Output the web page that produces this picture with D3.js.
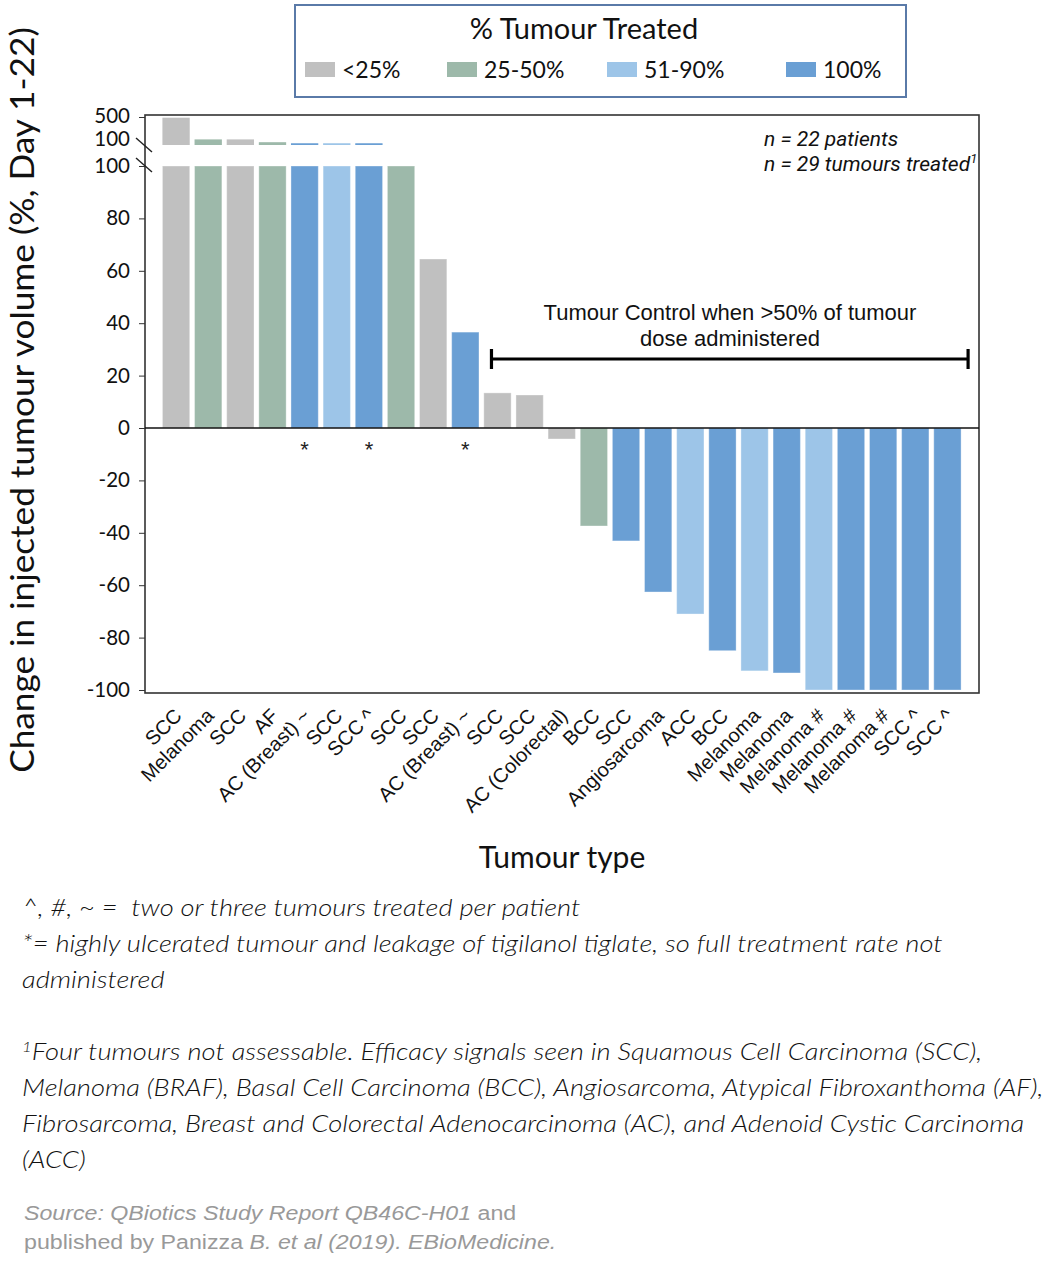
<!DOCTYPE html>
<html>
<head>
<meta charset="utf-8">
<script src="https://cdn.jsdelivr.net/npm/d3@7/dist/d3.min.js"></script>
<style>
  html,body{margin:0;padding:0;background:#fff;}
  svg{display:block;}
  text{white-space:pre;}
</style>
</head>
<body>
<svg id="chart" width="1058" height="1272"></svg>
<script>
const categories = ["SCC","Melanoma","SCC","AF","AC (Breast) ~","SCC","SCC ^","SCC","SCC","AC (Breast) ~","SCC","SCC","AC (Colorectal)","BCC","SCC","Angiosarcoma","ACC","BCC","Melanoma","Melanoma","Melanoma #","Melanoma #","Melanoma #","SCC ^","SCC ^"];
const values = [490,180,180,140,125,125,125,100,64.5,36.6,13.4,12.6,-4.2,-37.4,-43.1,-62.6,-71,-85,-92.7,-93.5,-100,-100,-100,-100,-100];
const treated = ["<25%","25-50%","<25%","25-50%","100%","51-90%","100%","25-50%","<25%","100%","<25%","<25%","<25%","25-50%","100%","100%","51-90%","100%","51-90%","100%","51-90%","100%","100%","100%","100%"];
const ulcerated = [0,0,0,0,1,0,1,0,0,1,0,0,0,0,0,0,0,0,0,0,0,0,0,0,0];
const legendLabels = ["<25%","25-50%","51-90%","100%"];
const legendColors = ["#c0c0c0","#9db9aa","#9dc5e8","#6a9fd4"];
const lowerTicks = [100,80,60,40,20,0,-20,-40,-60,-80,-100];
const upperTicks = [500,100];

const svg = d3.select("#chart");
const color = d3.scaleOrdinal().domain(legendLabels).range(legendColors);

const frame = {left:145, right:979, top:115, bottom:693};
const x = d3.scaleBand().domain(d3.range(categories.length)).range([160,963.5]).paddingInner(0.15).paddingOuter(0.075);
const yLow = d3.scaleLinear().domain([-100,100]).range([690,166]);
const yUp = d3.scaleLinear().domain([100,500]).range([145,117]);

// Legend
const lg = svg.append("g");
lg.append("rect").attr("x",295).attr("y",5).attr("width",611).attr("height",92)
  .attr("fill","#fff").attr("stroke","#5a7aa8").attr("stroke-width",2);
lg.append("text").attr("x",584).attr("y",39).attr("text-anchor","middle")
  .attr("font-family","Lato, 'Noto Sans', sans-serif").attr("font-size",29).attr("fill","#111")
  .text("% Tumour Treated");
const legX = [305,447,607,786];
legendLabels.forEach((l,i)=>{
  lg.append("rect").attr("x",legX[i]).attr("y",62).attr("width",30).attr("height",15).attr("fill",color(l));
  lg.append("text").attr("x",legX[i]+37).attr("y",78)
    .attr("font-family","Lato, 'Noto Sans', sans-serif").attr("font-size",23).attr("fill","#111").text(l);
});

// Bars
const bars = svg.append("g");
values.forEach((v,i)=>{
  const vc = Math.max(-100, Math.min(100, v));
  const y0 = yLow(Math.max(0,vc)), y1 = yLow(Math.min(0,vc));
  bars.append("rect").attr("x",x(i)).attr("y",y0).attr("width",x.bandwidth()).attr("height",Math.max(0,y1-y0))
    .attr("fill",color(treated[i])).attr("stroke","#ffffff").attr("stroke-opacity",0.35).attr("stroke-width",1);
  if (v>100){
    const u0 = yUp(v), u1 = yUp(100);
    bars.append("rect").attr("x",x(i)).attr("y",u0).attr("width",x.bandwidth()).attr("height",Math.max(1.5,u1-u0))
      .attr("fill",color(treated[i]));
  }
  if (ulcerated[i]){
    bars.append("text").attr("x",x(i)+x.bandwidth()/2).attr("y",yLow(0)+29).attr("text-anchor","middle")
      .attr("font-family","'Liberation Sans', Arial, sans-serif").attr("font-size",22).attr("fill","#222").text("*");
  }
});

// Frame
svg.append("rect").attr("x",frame.left).attr("y",frame.top).attr("width",frame.right-frame.left).attr("height",frame.bottom-frame.top)
  .attr("fill","none").attr("stroke","#333").attr("stroke-width",1.6);
svg.append("line").attr("x1",frame.left).attr("x2",frame.right).attr("y1",yLow(0)).attr("y2",yLow(0))
  .attr("stroke","#111").attr("stroke-width",1.6);

// Y axes
const fmt = d => String(d);
const axLow = svg.append("g").attr("transform",`translate(${frame.left},0)`)
  .call(d3.axisLeft(yLow).tickValues(lowerTicks).tickSize(6).tickFormat(fmt));
axLow.select(".domain").remove();
axLow.selectAll("text").attr("font-family","Lato, 'Noto Sans', sans-serif").attr("font-size",20.5).attr("fill","#111").attr("dx",-6);
axLow.selectAll("line").attr("stroke","#333");

const axUp = svg.append("g").attr("transform",`translate(${frame.left},0)`)
  .call(d3.axisLeft(yUp).tickValues(upperTicks).tickSize(6).tickFormat(fmt));
axUp.select(".domain").remove();
axUp.selectAll("text").attr("font-family","Lato, 'Noto Sans', sans-serif").attr("font-size",20.5).attr("fill","#111").attr("dx",-6)
  .attr("dy",(d)=> d===100 ? "0em" : "0.28em");
axUp.selectAll("line").attr("stroke","#333").attr("opacity",(d)=>d===100?0:1);

// Break marks
[[138,152],[158,172]].forEach(([a,b])=>{
  svg.append("line").attr("x1",136).attr("y1",a).attr("x2",152).attr("y2",b).attr("stroke","#222").attr("stroke-width",1.4);
});

// X labels
const xl = svg.append("g");
categories.forEach((c,i)=>{
  xl.append("text").attr("transform",`translate(${x(i)+x.bandwidth()/2+7},717) rotate(-45)`)
    .attr("text-anchor","end").attr("font-family","'Liberation Sans', Arial, sans-serif").attr("font-size",20)
    .attr("fill","#111").text(c);
});

// Axis titles
svg.append("text").attr("transform","translate(34,400) rotate(-90) scale(1.1,1)").attr("text-anchor","middle")
  .attr("font-family","Lato, 'Noto Sans', sans-serif").attr("font-size",32).attr("fill","#111")
  .text("Change in injected tumour volume (%, Day 1-22)");
svg.append("text").attr("x",562).attr("y",868).attr("text-anchor","middle")
  .attr("font-family","Lato, 'Noto Sans', sans-serif").attr("font-size",30).attr("fill","#111").text("Tumour type");

// n annotations
const na = svg.append("g").attr("font-family","Roboto, sans-serif").attr("font-style","italic").attr("font-size",21).attr("fill","#111");
na.append("text").attr("x",764).attr("y",146).text("n = 22 patients");
const t2 = na.append("text").attr("x",764).attr("y",171).text("n = 29 tumours treated");
t2.append("tspan").attr("font-size",13).attr("dy",-8).text("1");

// Tumour control annotation
const ta = svg.append("g").attr("font-family","'Liberation Sans', Arial, sans-serif").attr("font-size",22).attr("fill","#111").attr("text-anchor","middle");
ta.append("text").attr("x",730).attr("y",320).text("Tumour Control when >50% of tumour");
ta.append("text").attr("x",730).attr("y",346).text("dose administered");
const bx0 = x(10)+x.bandwidth()/2-6, bx1 = x(categories.length-1)+x.bandwidth()+7, by = 359;
svg.append("line").attr("x1",bx0).attr("x2",bx1).attr("y1",by).attr("y2",by).attr("stroke","#000").attr("stroke-width",3.2);
[bx0,bx1].forEach(bx=>svg.append("line").attr("x1",bx).attr("x2",bx).attr("y1",by-10).attr("y2",by+10).attr("stroke","#000").attr("stroke-width",3.2));

// Footnotes
const fn = svg.append("g").attr("transform","translate(22,0) scale(1.19,1) translate(-22,0)")
  .attr("font-family","Lato, 'Noto Sans', sans-serif").attr("font-style","italic").attr("font-weight",300).attr("font-size",23).attr("fill","#111");
fn.append("text").attr("x",22).attr("y",916).text("^, #, ~ =  two or three tumours treated per patient");
fn.append("text").attr("x",22).attr("y",952).text("*= highly ulcerated tumour and leakage of tigilanol tiglate, so full treatment rate not");
fn.append("text").attr("x",22).attr("y",988).text("administered");
const f1 = fn.append("text").attr("x",22).attr("y",1060);
f1.append("tspan").attr("font-size",14).attr("dy",-8).text("1");
f1.append("tspan").attr("dy",8).text("Four tumours not assessable. Efficacy signals seen in Squamous Cell Carcinoma (SCC),");
fn.append("text").attr("x",22).attr("y",1096).text("Melanoma (BRAF), Basal Cell Carcinoma (BCC), Angiosarcoma, Atypical Fibroxanthoma (AF),");
fn.append("text").attr("x",22).attr("y",1132).text("Fibrosarcoma, Breast and Colorectal Adenocarcinoma (AC), and Adenoid Cystic Carcinoma");
fn.append("text").attr("x",22).attr("y",1168).text("(ACC)");

const src = svg.append("g").attr("transform","translate(24,0) scale(1.105,1) translate(-24,0)")
  .attr("font-family","'Liberation Sans', Arial, sans-serif").attr("font-size",21).attr("fill","#999");
const s1 = src.append("text").attr("x",24).attr("y",1220);
s1.append("tspan").attr("font-style","italic").text("Source: QBiotics Study Report QB46C-H01");
s1.append("tspan").text(" and");
const s2 = src.append("text").attr("x",24).attr("y",1249);
s2.append("tspan").text("published by Panizza ");
s2.append("tspan").attr("font-style","italic").text("B. et al (2019). EBioMedicine.");
</script>
</body>
</html>
